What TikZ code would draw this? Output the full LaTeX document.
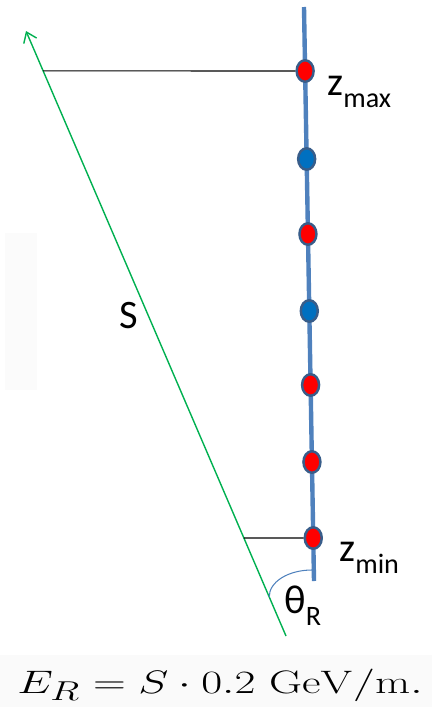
\documentclass[tikz,border=0pt]{standalone}
\usepackage{fix-cm}
\usepackage[no-math]{fontspec}
\newfontfamily\calfont{Carlito}
\usetikzlibrary{arrows.meta,positioning,shapes.geometric}
\definecolor{wire}{RGB}{79,129,189}
\definecolor{rim}{RGB}{56,93,138}
\definecolor{hitred}{RGB}{255,0,0}
\definecolor{hitblue}{RGB}{0,112,192}
\definecolor{track}{RGB}{0,176,80}
\tikzset{
  hit/.style={ellipse, draw=rim, line width=1.4pt, minimum width=3.4mm, minimum height=4.3mm, inner sep=0pt},
  redhit/.style={hit, fill=hitred},
  bluehit/.style={hit, fill=hitblue},
  ray/.style={draw=track, line width=0.8pt},
  proj/.style={draw=black, line width=0.6pt},
  lab/.style={font=\calfont\fontsize{23}{26}\selectfont, inner sep=0pt},
}
\newcommand{\lowsub}[1]{\raisebox{-0.32em}{\fontsize{16}{16}\selectfont #1}}

\begin{document}
\begin{tikzpicture}[x=0.02cm,y=-0.02cm]
\useasboundingbox (0,0) rectangle (432,707);

% ---- faint background patches ----
\fill[black!1.5] (5,233) rectangle (37,390);
\fill[black!2] (0,655) rectangle (432,707);

% ---- detector string ----
\coordinate (top) at (304,7);
\coordinate (bot) at (314,581);
\draw[wire, line width=2.5pt] (top) -- (bot);

\path (top) -- (bot)
  node[redhit, pos=0.1115] (zmax) {}
  node[bluehit, pos=0.2648] (d2) {}
  node[redhit, pos=0.3955] (d3) {}
  node[bluehit, pos=0.5296] (d4) {}
  node[redhit, pos=0.6585] (d5) {}
  node[redhit, pos=0.7927] (d6) {}
  node[redhit, pos=0.9251] (zmin) {};

% ---- track ----
\coordinate (tstart) at (286,636);
\coordinate (tend) at (26,31);
\draw[ray, -{Straight Barb[length=1.9mm, width=2.8mm]}] (tstart) -- (tend);
\path (tstart) -- (tend)
  coordinate[pos=0.934] (hmax)
  coordinate[pos=0.162] (hmin)
  coordinate[pos=0.0645] (arcB);

% projections
\draw[proj] (hmax) -- (zmax.west);
\draw[proj] (hmin) -- (zmin.west);

% angle
\coordinate (arcA) at (312,570);
\draw[wire, line width=0.6pt] (arcA) .. controls (288,570) and (269,582) .. (arcB);

% ---- labels ----
\node[lab, anchor=base west] (lmax) at (327,95) {z\lowsub{max}};
\node[lab, anchor=base west] (lmin) at (339,561) {z\lowsub{min}};
\node[lab, anchor=base west] (lS) at (119,328) {S};
\node[lab, anchor=base west] (lth) at (284,613) {θ\lowsub{R}};

% ---- formula ----
\node[anchor=base, inner sep=0pt] (form) at (220,693)
  {\scalebox{1.4}[1]{\fontsize{18.5}{22}\selectfont
   $E_{\scalebox{1.2}{$\scriptstyle R$}} = S\cdot 0.2\ \mathrm{GeV/m.}$}};

\end{tikzpicture}
\end{document}
